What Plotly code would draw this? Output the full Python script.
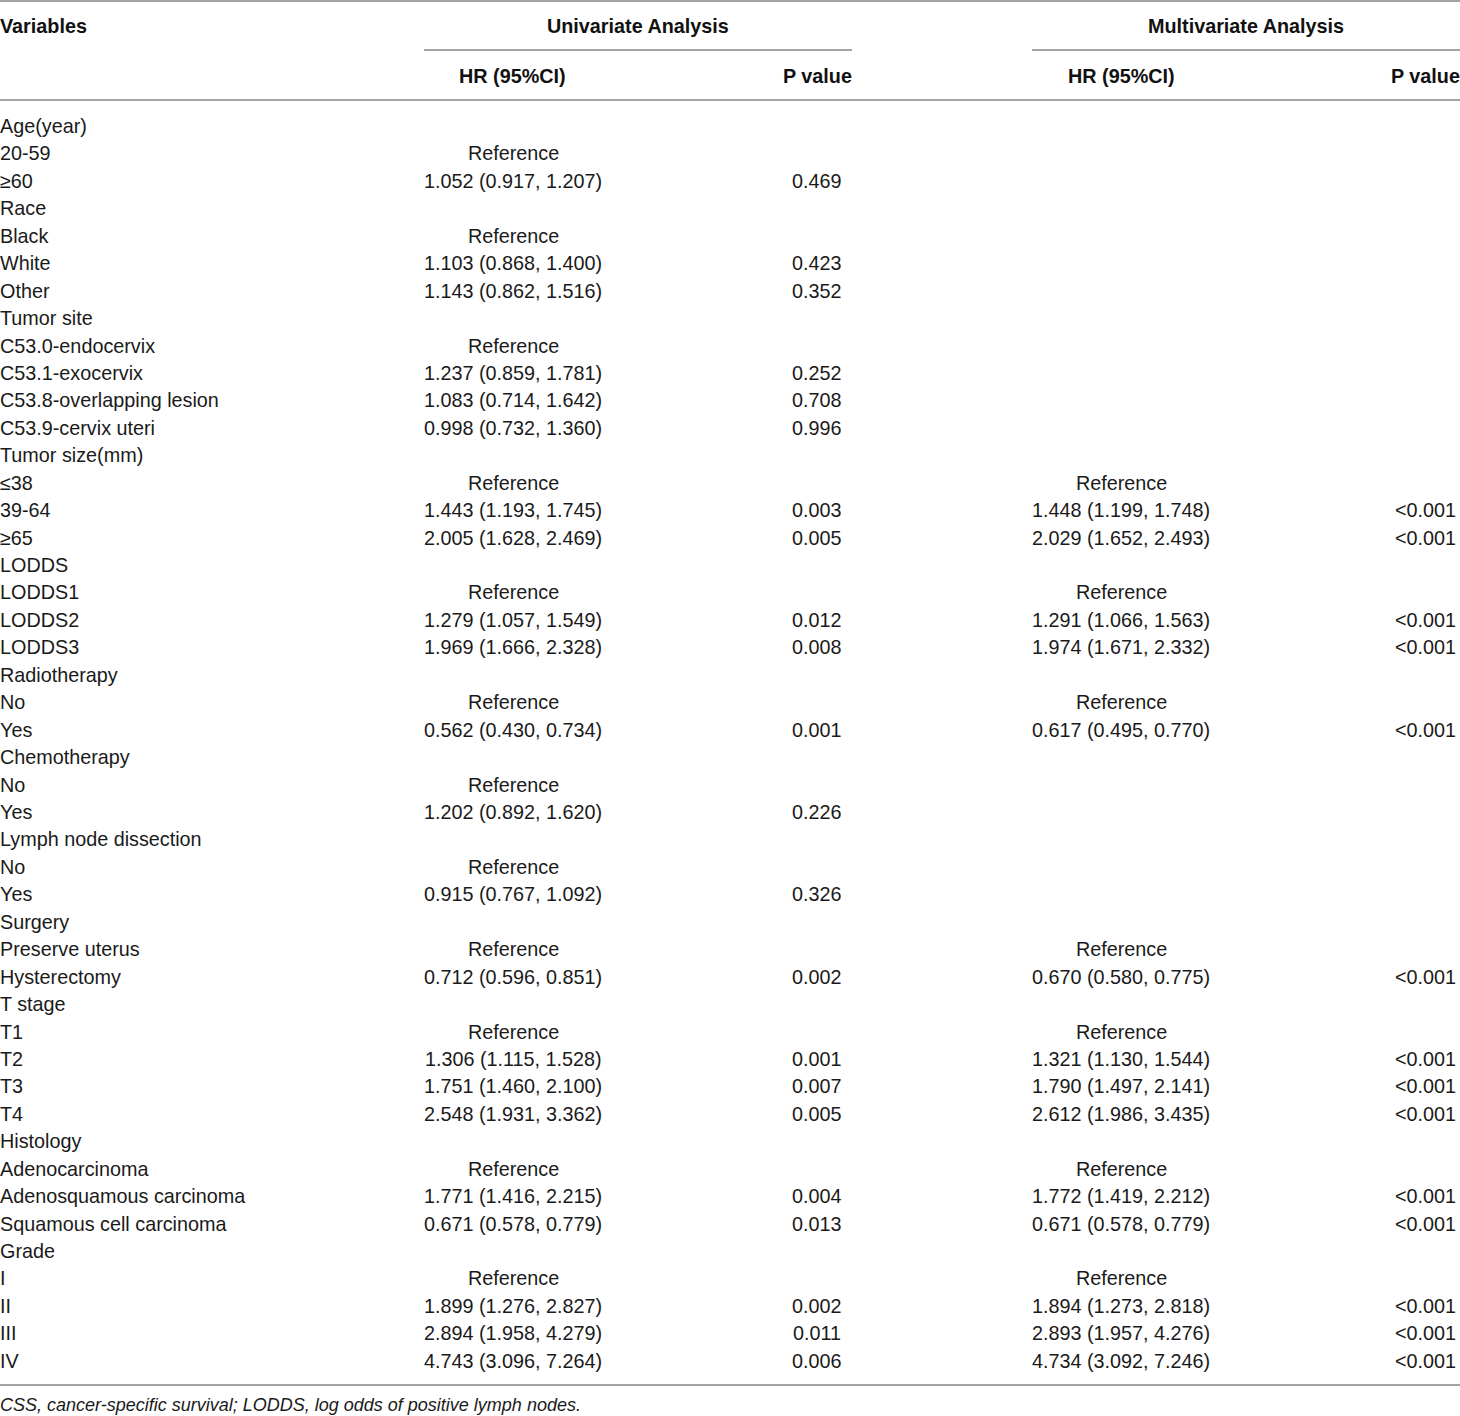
import plotly.graph_objects as go

# rows of the table (variables + values), "" where the cell is blank
variables = ["Age(year)", "20-59", "≥60", "Race", "Black", "White", "Other",
             "Tumor site", "C53.0-endocervix", "C53.1-exocervix", "C53.8-overlapping lesion",
             "C53.9-cervix uteri", "Tumor size(mm)", "≤38", "39-64", "≥65",
             "LODDS", "LODDS1", "LODDS2", "LODDS3", "Radiotherapy", "No", "Yes",
             "Chemotherapy", "No", "Yes", "Lymph node dissection", "No", "Yes",
             "Surgery", "Preserve uterus", "Hysterectomy", "T stage", "T1", "T2", "T3", "T4",
             "Histology", "Adenocarcinoma", "Adenosquamous carcinoma", "Squamous cell carcinoma",
             "Grade", "I", "II", "III", "IV"]

uni_hr = ["", "Reference", "1.052 (0.917, 1.207)", "", "Reference", "1.103 (0.868, 1.400)",
          "1.143 (0.862, 1.516)", "", "Reference", "1.237 (0.859, 1.781)", "1.083 (0.714, 1.642)",
          "0.998 (0.732, 1.360)", "", "Reference", "1.443 (1.193, 1.745)", "2.005 (1.628, 2.469)",
          "", "Reference", "1.279 (1.057, 1.549)", "1.969 (1.666, 2.328)", "", "Reference",
          "0.562 (0.430, 0.734)", "", "Reference", "1.202 (0.892, 1.620)", "", "Reference",
          "0.915 (0.767, 1.092)", "", "Reference", "0.712 (0.596, 0.851)", "", "Reference",
          "1.306 (1.115, 1.528)", "1.751 (1.460, 2.100)", "2.548 (1.931, 3.362)", "", "Reference",
          "1.771 (1.416, 2.215)", "0.671 (0.578, 0.779)", "", "Reference", "1.899 (1.276, 2.827)",
          "2.894 (1.958, 4.279)", "4.743 (3.096, 7.264)"]

uni_p = ["", "", "0.469", "", "", "0.423", "0.352", "", "", "0.252", "0.708", "0.996", "", "",
         "0.003", "0.005", "", "", "0.012", "0.008", "", "", "0.001", "", "", "0.226", "", "",
         "0.326", "", "", "0.002", "", "", "0.001", "0.007", "0.005", "", "", "0.004", "0.013",
         "", "", "0.002", "0.011", "0.006"]

multi_hr = ["", "", "", "", "", "", "", "", "", "", "", "", "", "Reference",
            "1.448 (1.199, 1.748)", "2.029 (1.652, 2.493)", "", "Reference", "1.291 (1.066, 1.563)",
            "1.974 (1.671, 2.332)", "", "Reference", "0.617 (0.495, 0.770)", "", "", "", "", "", "",
            "", "Reference", "0.670 (0.580, 0.775)", "", "Reference", "1.321 (1.130, 1.544)",
            "1.790 (1.497, 2.141)", "2.612 (1.986, 3.435)", "", "Reference", "1.772 (1.419, 2.212)",
            "0.671 (0.578, 0.779)", "", "Reference", "1.894 (1.273, 2.818)", "2.893 (1.957, 4.276)",
            "4.734 (3.092, 7.246)"]

multi_p = ["", "", "", "", "", "", "", "", "", "", "", "", "", "", "<0.001", "<0.001", "", "",
           "<0.001", "<0.001", "", "", "<0.001", "", "", "", "", "", "", "", "", "<0.001", "",
           "", "<0.001", "<0.001", "<0.001", "", "", "<0.001", "<0.001", "", "", "<0.001",
           "<0.001", "<0.001"]

group_headers = ["Univariate Analysis", "Multivariate Analysis"]
col_headers = ["HR (95%CI)", "P value", "HR (95%CI)", "P value"]
footnote = "CSS, cancer-specific survival; LODDS, log odds of positive lymph nodes."

W, H = 1460, 1416
row_top, row_h = 126, 27.44  # pixel y of the first row and row pitch

def ry(px):
    # pixel y -> row units
    return (px - row_top) / row_h

fam = "Liberation Sans, Arial, sans-serif"
body_font = dict(family=fam, size=19.8, color="#1a1a1a")
head_font = dict(family=fam, size=19.8, color="#111111")
line_col = "#a3a3a3"

fig = go.Figure()

def cell(x, y, txt, anchor, font, xs=0):
    if txt:
        fig.add_annotation(x=x, y=y, text=txt, showarrow=False, xanchor=anchor,
                           yanchor="middle", font=font, xshift=xs)

# body: column x centre (or left edge) in plot px
for i in range(len(variables)):
    cell(0, i, variables[i], "left", body_font, -2)
    cell(513, i, uni_hr[i], "center", body_font)
    cell(817, i, uni_p[i], "center", body_font)
    cell(1121, i, multi_hr[i], "center", body_font)
    cell(1425, i, multi_p[i], "center", body_font)

# headers
hy1, hy2 = ry(26), ry(76)
cell(0, hy1, "<b>Variables</b>", "left", head_font, -2)
for xc, t in zip([638, 1246], group_headers):
    cell(xc, hy1, "<b>%s</b>" % t, "center", head_font)
for xc, t in zip([512, 817, 1121, 1425], col_headers):
    cell(xc, hy2, "<b>%s</b>" % t, "center", head_font)

cell(0, ry(1405), "<i>%s</i>" % footnote, "left",
     dict(family=fam, size=18, color="#1a1a1a"), -2)

# rules
for x0, x1, py in [(0, W, 1), (424, 852, 50), (1032, W, 50), (0, W, 100), (0, W, 1385)]:
    fig.add_shape(type="line", x0=x0, x1=x1, y0=ry(py), y1=ry(py),
                  xref="x", yref="y", line=dict(color=line_col, width=2))

# empty trace so the axes exist
fig.add_trace(go.Scatter(x=[0, W], y=[0, 0], mode="markers", marker=dict(opacity=0),
                         hoverinfo="skip", showlegend=False))

fig.update_xaxes(range=[0, W], visible=False, fixedrange=True)
fig.update_yaxes(range=[ry(H), ry(0)], visible=False, fixedrange=True)
fig.update_layout(width=W, height=H, margin=dict(l=0, r=0, t=0, b=0),
                  plot_bgcolor="white", paper_bgcolor="white")

fig.write_html("out.html", post_script="document.body.style.margin='0';",
               config={"displayModeBar": False})
